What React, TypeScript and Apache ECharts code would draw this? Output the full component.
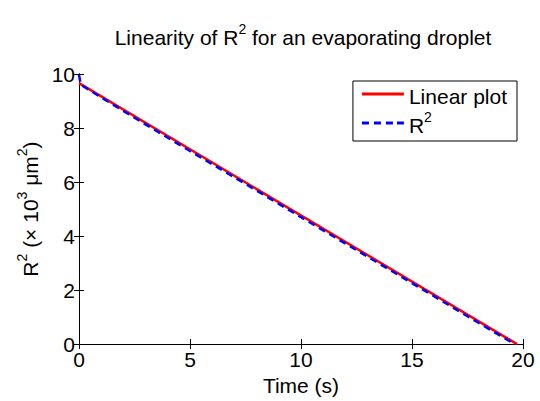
import React, { useEffect, useRef } from "react";
import * as echarts from "echarts";

const xTicks = [0, 5, 10, 15, 20];
const yTicks = [0, 2, 4, 6, 8, 10];
const linearPlot: number[][] = [
  [0, 9.66],
  [19.73, 0],
];
const r2Data: number[][] = [
  [0, 9.97],
  [0.08, 9.6],
  [2.5, 8.38],
  [5, 7.15],
  [7.5, 5.93],
  [10, 4.7],
  [12.5, 3.48],
  [15, 2.26],
  [17.5, 1.03],
  [19.62, 0],
];

const FONT = "Liberation Sans, Arial, sans-serif";
const FS = 21;
const SUP = 14;

const richMain = (lh: number, fs: number = FS, sup: number = SUP) => ({
  a: { fontSize: fs, fontFamily: FONT, color: "#000", fontWeight: "normal", verticalAlign: "bottom", lineHeight: lh },
  b: { fontSize: sup, fontFamily: FONT, color: "#000", fontWeight: "normal", verticalAlign: "top", lineHeight: lh, padding: [0, 0, 12, 0] },
});

export default function App() {
  const ref = useRef<HTMLDivElement>(null);
  useEffect(() => {
    if (!ref.current) return;
    const chart = echarts.init(ref.current, undefined, { renderer: "svg" });
    const axisCommon = {
      type: "value" as const,
      axisLine: { show: true, lineStyle: { color: "#000", width: 1 } },
      axisTick: { show: true, inside: true, length: 5, lineStyle: { color: "#000" } },
      splitLine: { show: false },
    };
    chart.setOption({
      animation: false,
      backgroundColor: "#fff",
      textStyle: { fontFamily: FONT },
      title: {
        text: "{a|Linearity of R}{b|2}{a| for an evaporating droplet}",
        left: 298,
        top: 17,
        textAlign: "center",
        textStyle: { fontWeight: "normal", rich: richMain(26, 21, 14) },
      },
      grid: { left: 79, right: 17, top: 74, bottom: 51 },
      legend: {
        right: 23,
        top: 81,
        orient: "vertical",
        backgroundColor: "#fff",
        borderColor: "#000",
        borderWidth: 1,
        borderRadius: 0,
        padding: [5, 10, 5, 9],
        itemGap: 3,
        itemWidth: 42,
        itemHeight: 3,
        data: [
          { name: "Linear plot", icon: "path://M0,0H42V3H0Z" },
          {
            name: "R2",
            icon: "path://M0,0H7V3H0Z M12,0H19V3H12Z M24,0H31V3H24Z M35,0H42V3H35Z",
          },
        ],
        formatter: (name: string) => (name === "R2" ? "{a|R}{b|2}" : "{a|" + name + "}"),
        textStyle: { rich: richMain(26) },
      },
      xAxis: [
        {
          ...axisCommon,
          min: 0,
          max: 20,
          interval: 5,
          position: "bottom",
          name: "Time (s)",
          nameLocation: "middle",
          nameGap: 23,
          nameTextStyle: { fontSize: FS, color: "#000", fontFamily: FONT },
          axisLabel: { fontSize: FS, color: "#000", fontFamily: FONT, margin: 5 },
        },
        {
          ...axisCommon,
          min: 0,
          max: 20,
          interval: 5,
          position: "top",
          axisLabel: { show: false },
        },
      ],
      yAxis: [
        {
          ...axisCommon,
          min: 0,
          max: 10,
          interval: 2,
          position: "left",
          name: "{a|R}{b|2}{a| (× 10}{b|3}{a| μm}{b|2}{a|)}",
          nameLocation: "middle",
          nameGap: 27,
          nameTextStyle: { rich: richMain(26) },
          axisLabel: { fontSize: FS, color: "#000", fontFamily: FONT, margin: 4 },
        },
        {
          ...axisCommon,
          min: 0,
          max: 10,
          interval: 2,
          position: "right",
          axisLabel: { show: false },
        },
      ],
      series: [
        {
          name: "Linear plot",
          type: "line",
          data: linearPlot,
          symbol: "none",
          lineStyle: { color: "#ff0000", width: 2.5 },
          itemStyle: { color: "#ff0000" },
          z: 2,
        },
        {
          name: "R2",
          type: "line",
          data: r2Data,
          symbol: "none",
          lineStyle: { color: "#0000ff", width: 2.5, type: [7, 5] },
          itemStyle: { color: "#0000ff" },
          z: 3,
        },
      ],
    });
    return () => chart.dispose();
  }, []);
  return (
    <div
      ref={ref}
      style={{ position: "absolute", left: 0, top: 0, width: 540, height: 401 }}
    />
  );
}
